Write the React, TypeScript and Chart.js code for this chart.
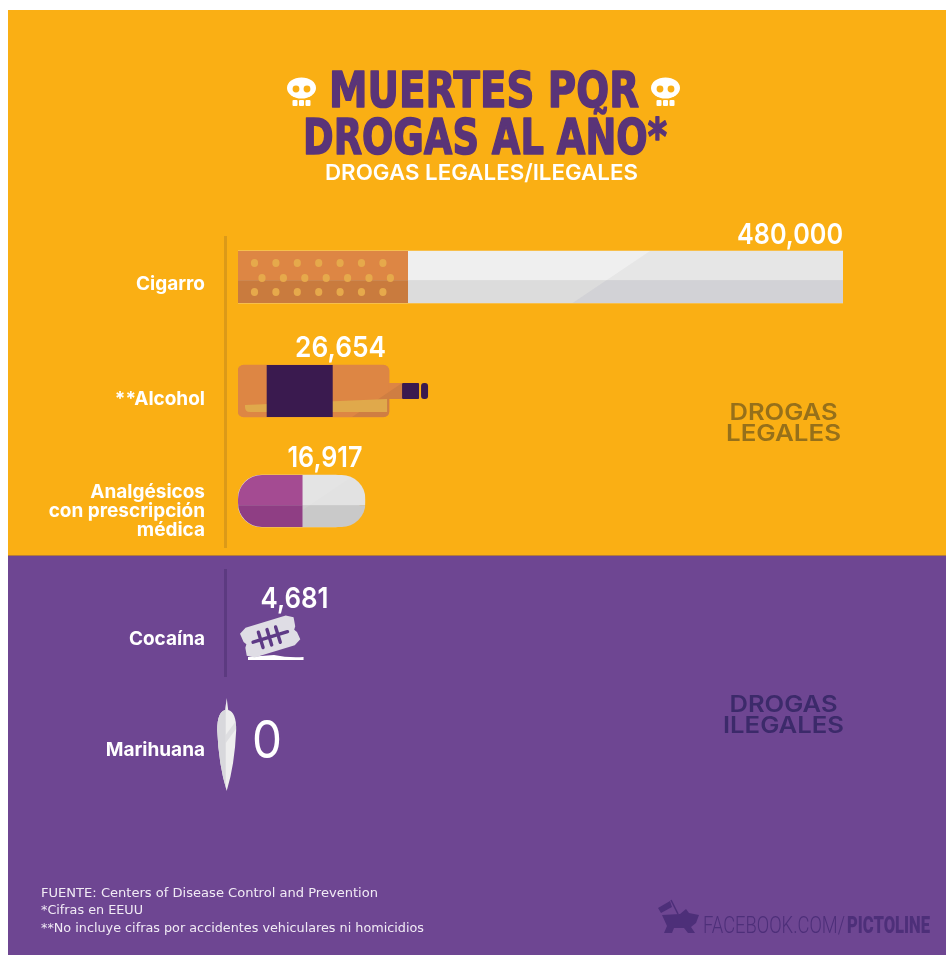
import React, { useEffect, useRef } from "react";
import { Chart, registerables, LinearScale, CategoryScale } from "chart.js";

const categories = ["Cigarro", "**Alcohol", ["Analgésicos", "con prescripción", "médica"], "Cocaína", "Marihuana"];
const deaths = [480000, 26654, 16917, 4681, 0];
const valueLabels = deaths.map((v) => v.toLocaleString("en-US"));
const titleLines = ["MUERTES POR", "DROGAS AL AÑO*"];
const subtitle = "DROGAS LEGALES/ILEGALES";
const legalLabel = ["DROGAS", "LEGALES"];
const illegalLabel = ["DROGAS", "ILEGALES"];
const footerLines = [
  "FUENTE: Centers of Disease Control and Prevention",
  "*Cifras en EEUU",
  "**No incluye cifras por accidentes vehiculares ni homicidios",
];

const YELLOW = "#FAAF14";
const PURPLE = "#6E4692";
const W = 938;
const H = 947;
const OX = 8; // canvas offset on the page
const OY = 8;

const PLOT_TOP = 220;
const PLOT_BOTTOM = 800;
const barRows = [277, 391, 501, 638, 745];
const tickRows = [284, 399, 511, 639, 750];

class RowScale extends CategoryScale {
  static id = "rows";
  static defaults = {};
  getPixelForValue(value: number, index?: number) {
    const i = index ?? value;
    return barRows[i] - OY;
  }
  getPixelForTick(index: number) {
    return tickRows[index] - OY;
  }
}

// Pictorial, compressed length scale: the picture's lengths follow a power of the value
const POWER = 0.48;
class PictureScale extends LinearScale {
  static id = "picture";
  static defaults = {};
  getPixelForValue(value: number) {
    const f = Math.pow(Math.max(0, (value ?? 0) / (this as any).max), POWER);
    return (this as any).left + f * (this as any).width;
  }
  getValueForPixel(pixel: number) {
    const f = (pixel - (this as any).left) / (this as any).width;
    return Math.pow(f, 1 / POWER) * (this as any).max;
  }
}

Chart.register(...registerables, RowScale, PictureScale);

function fitText(ctx: CanvasRenderingContext2D, text: string, x: number, y: number, width: number, font: string, color: string, stroke = 0) {
  // x = left edge on the page, y = baseline on the page, width = target width
  ctx.save();
  ctx.font = font;
  ctx.textAlign = "left";
  ctx.textBaseline = "alphabetic";
  const m = ctx.measureText(text).width;
  ctx.translate(x - OX, y - OY);
  ctx.scale(width / m, 1);
  ctx.fillStyle = color;
  ctx.fillText(text, 0, 0);
  if (stroke) {
    ctx.strokeStyle = color;
    ctx.lineWidth = stroke;
    ctx.lineJoin = "round";
    ctx.strokeText(text, 0, 0);
  }
  ctx.restore();
}

function rr(ctx: CanvasRenderingContext2D, x: number, y: number, w: number, h: number, r: number) {
  ctx.beginPath();
  ctx.roundRect(x, y, w, h, r);
}

function skull(ctx: CanvasRenderingContext2D, cx: number, top: number) {
  ctx.save();
  ctx.fillStyle = "#fff";
  ctx.beginPath();
  ctx.ellipse(cx, top + 10, 14.5, 10.5, 0, 0, Math.PI * 2);
  ctx.fill();
  rr(ctx, cx - 9, top + 14, 18, 5, 2);
  ctx.fill();
  for (let i = 0; i < 3; i++) {
    rr(ctx, cx - 9 + i * 6.5, top + 22, 5, 6, 1);
    ctx.fill();
  }
  ctx.fillStyle = YELLOW;
  ctx.beginPath();
  ctx.arc(cx - 5.5, top + 11, 3.4, 0, Math.PI * 2);
  ctx.arc(cx + 5.5, top + 11, 3.4, 0, Math.PI * 2);
  ctx.fill();
  ctx.restore();
}

function cigarette(ctx: CanvasRenderingContext2D, x: number, y: number, w: number, h: number) {
  const fw = w * 0.281;
  const band = h * 0.56;
  const tip = x + w;
  ctx.fillStyle = "#EFEFEF";
  ctx.fillRect(x + fw, y, w - fw, band);
  ctx.fillStyle = "#DCDCDC";
  ctx.fillRect(x + fw, y + band, w - fw, h - band);
  const dx = w * 0.681;
  const dx2 = w * 0.553;
  ctx.save();
  ctx.beginPath();
  ctx.moveTo(x + dx, y);
  ctx.lineTo(tip, y);
  ctx.lineTo(tip, y + h);
  ctx.lineTo(x + dx2, y + h);
  ctx.closePath();
  ctx.clip();
  ctx.fillStyle = "#E6E6E6";
  ctx.fillRect(x, y, w, band);
  ctx.fillStyle = "#D2D2D6";
  ctx.fillRect(x, y + band, w, h - band);
  ctx.restore();
  ctx.fillStyle = "#DD8644";
  ctx.fillRect(x, y, fw, band);
  ctx.fillStyle = "#C97B3E";
  ctx.fillRect(x, y + band, fw, h - band);
  ctx.fillStyle = "#E6A94B";
  const rows: [number, number][] = [
    [12, 16.5],
    [27, 24],
    [41, 16.5],
  ];
  for (const [ry, off] of rows) {
    for (let i = 0; i < 7; i++) {
      ctx.beginPath();
      ctx.ellipse(x + off + i * 21.4, y + ry, 3.6, 4, 0, 0, Math.PI * 2);
      ctx.fill();
    }
  }
}

function bottle(ctx: CanvasRenderingContext2D, x: number, y: number, w: number, h: number) {
  const end = x + w;
  const mid = y + h / 2;
  ctx.save();
  rr(ctx, x, y, w, h, 6);
  ctx.fillStyle = "#DD8644";
  ctx.fill();
  ctx.fillRect(end - 1, mid - 8, 14, 16);
  // shaded corner
  ctx.fillStyle = "#CF7E42";
  ctx.beginPath();
  ctx.moveTo(end + 13, mid - 8);
  ctx.lineTo(end + 13, mid + 8);
  ctx.lineTo(end, mid + 8);
  ctx.lineTo(end, y + h - 5);
  ctx.arcTo(end, y + h, end - 5, y + h, 5);
  ctx.lineTo(end - 37, y + h);
  ctx.closePath();
  ctx.fill();
  // liquid
  ctx.fillStyle = "#E0A94B";
  ctx.beginPath();
  ctx.moveTo(x + 7, y + 40);
  ctx.lineTo(end - 2, y + 34);
  ctx.lineTo(end - 2, y + 47);
  ctx.lineTo(x + 12, y + 47);
  ctx.quadraticCurveTo(x + 7, y + 47, x + 7, y + 42);
  ctx.closePath();
  ctx.fill();
  // label and caps
  ctx.fillStyle = "#3A1A4F";
  ctx.fillRect(x + w * 0.19, y, w * 0.437, h);
  rr(ctx, end + 13, mid - 8, 17, 16, 1);
  ctx.fill();
  rr(ctx, end + 32, mid - 8, 7, 16, 3);
  ctx.fill();
  ctx.restore();
}

function pill(ctx: CanvasRenderingContext2D, x: number, y: number, w: number, h: number) {
  const dw = w + 6;
  const half = dw * 0.508;
  const band = h * 0.58;
  ctx.save();
  rr(ctx, x, y, dw, h, 24);
  ctx.clip();
  ctx.fillStyle = "#A44B92";
  ctx.fillRect(x, y, half, band);
  ctx.fillStyle = "#8F3E84";
  ctx.fillRect(x, y + band, half, h - band);
  ctx.fillStyle = "#E2E2E2";
  ctx.fillRect(x + half, y, dw - half, band);
  ctx.fillStyle = "#C9C9C9";
  ctx.fillRect(x + half, y + band, dw - half, h - band);
  ctx.fillStyle = "rgba(255,255,255,0.08)";
  ctx.beginPath();
  ctx.moveTo(x + half, y);
  ctx.lineTo(x + half + 52, y);
  ctx.lineTo(x + half, y + 35);
  ctx.closePath();
  ctx.fill();
  ctx.restore();
}

function blade(ctx: CanvasRenderingContext2D, x: number, y: number, w: number) {
  // x = base pixel, w = bar length, y = row centre
  ctx.save();
  ctx.fillStyle = "#fff";
  ctx.beginPath();
  ctx.moveTo(x + 10, y + 22);
  ctx.lineTo(x + 10, y + 19);
  ctx.lineTo(x + 36, y + 17);
  ctx.quadraticCurveTo(x + 50, y + 20, w + x, y + 19);
  ctx.lineTo(x + w, y + 22);
  ctx.closePath();
  ctx.fill();
  ctx.translate(x + 32, y - 2);
  ctx.rotate((-17 * Math.PI) / 180);
  ctx.fillStyle = "#DFDDE5";
  ctx.beginPath();
  ctx.moveTo(-28, -11);
  ctx.lineTo(-21, -15);
  ctx.lineTo(21, -15);
  ctx.lineTo(28, -11);
  ctx.lineTo(27, -2);
  ctx.lineTo(25, 1);
  ctx.lineTo(27, 4);
  ctx.lineTo(28, 12);
  ctx.lineTo(21, 16);
  ctx.lineTo(-21, 16);
  ctx.lineTo(-28, 12);
  ctx.lineTo(-27, 4);
  ctx.lineTo(-25, 1);
  ctx.lineTo(-27, -2);
  ctx.closePath();
  ctx.fill();
  ctx.lineCap = "round";
  ctx.strokeStyle = "#5E3A86";
  ctx.lineWidth = 3.4;
  ctx.beginPath();
  ctx.moveTo(-18, 1);
  ctx.lineTo(18, 1);
  for (const cx of [-10, -1, 8]) {
    ctx.moveTo(cx, -7);
    ctx.lineTo(cx, 9);
  }
  ctx.stroke();
  ctx.restore();
}

function joint(ctx: CanvasRenderingContext2D, base: number, cy: number) {
  const x = base - 11.3; // the joint sits across the axis because its value is zero
  const leaf = () => {
    ctx.beginPath();
    ctx.moveTo(x, cy - 47);
    ctx.lineTo(x + 1.5, cy - 35);
    ctx.quadraticCurveTo(x + 9.5, cy - 33, x + 9.5, cy - 15);
    ctx.quadraticCurveTo(x + 8, cy + 20, x, cy + 46);
    ctx.quadraticCurveTo(x - 8, cy + 20, x - 9.5, cy - 15);
    ctx.quadraticCurveTo(x - 9.5, cy - 33, x - 1.5, cy - 35);
    ctx.closePath();
  };
  ctx.save();
  leaf();
  ctx.fillStyle = "#EEEEEE";
  ctx.fill();
  leaf();
  ctx.clip();
  ctx.fillStyle = "#D8D8DC";
  ctx.fillRect(x - 12, cy - 50, 11, 100);
  ctx.fillStyle = "rgba(215,215,220,0.7)";
  ctx.beginPath();
  ctx.moveTo(x - 1, cy - 10);
  ctx.lineTo(x + 10, cy - 25);
  ctx.lineTo(x + 10, cy - 17);
  ctx.lineTo(x - 1, cy - 2);
  ctx.closePath();
  ctx.fill();
  ctx.restore();
}

const decorPlugin = {
  id: "decor",
  beforeDraw(chart: Chart) {
    const ctx = chart.ctx;
    ctx.save();
    ctx.fillStyle = YELLOW;
    ctx.fillRect(0, 2, W, 555 - OY - 2);
    ctx.fillStyle = PURPLE;
    ctx.fillRect(0, 555 - OY, W, H - (555 - OY));
    ctx.fillStyle = "#B57B3A";
    ctx.fillRect(0, 555 - OY, W, 1);
    // guide rules beside the categories
    ctx.fillStyle = "#DC9A18";
    ctx.fillRect(224 - OX, 236 - OY, 3, 312);
    ctx.fillStyle = "#5C3A80";
    ctx.fillRect(224 - OX, 569 - OY, 3, 108);
    ctx.restore();
  },
  afterDatasetsDraw(chart: Chart) {
    const ctx = chart.ctx;
    const meta = chart.getDatasetMeta(0);
    const rect = (i: number) => {
      const b: any = meta.data[i];
      const h = b.height;
      return { x: b.base, y: b.y - h / 2, w: b.x - b.base, h, cy: b.y };
    };
    const c = rect(0);
    cigarette(ctx, c.x, c.y, c.w, c.h);
    const a = rect(1);
    bottle(ctx, a.x, a.y, a.w, a.h);
    const p = rect(2);
    pill(ctx, p.x, p.y, p.w, p.h);
    const b = rect(3);
    blade(ctx, b.x, b.cy, b.w);
    const m = rect(4);
    joint(ctx, m.x, m.cy);

    // value labels: right edge follows the end of each bar
    const labelFont = "600 29px Inter";
    const put = (i: number, right: number, baseline: number, width: number) =>
      fitText(ctx, valueLabels[i], right + OX - width, baseline + OY, width, labelFont, "#fff");
    put(0, c.x + c.w, c.y - 7, 106);
    put(1, a.x + a.w - 3, a.y - 8, 91);
    put(2, p.x + p.w + 3, p.y - 8, 75);
    put(3, b.x + b.w + 25, b.cy - 30, 68);
    fitText(ctx, valueLabels[4], m.x + 14 + OX, m.cy + 13 + OY, 30, "400 52px Inter", "#fff");

    // title block
    fitText(ctx, titleLines[0], 329, 107, 310, "700 50px 'DejaVu Sans'", "#5A3478", 1.6);
    fitText(ctx, titleLines[1], 303, 154, 364, "700 50px 'DejaVu Sans'", "#5A3478", 1.6);
    fitText(ctx, subtitle, 325, 180, 313, "600 22px Inter", "#fff");
    skull(ctx, 301.5 - OX, 78 - OY);
    skull(ctx, 665.5 - OX, 78 - OY);

    // group names
    const group = (lines: string[], y: number[], color: string, widths: number[]) => {
      lines.forEach((l, i) => {
        fitText(ctx, l, 783.5 - widths[i] / 2, y[i], widths[i], "600 23px Inter", color);
      });
    };
    group(legalLabel, [420, 441], "#96701A", [108, 115]);
    group(illegalLabel, [712, 733], "#3C2A6A", [108, 121]);

    // footer
    const footerY = [897, 914, 932];
    const footerW = [337, 102, 383];
    footerLines.forEach((l, i) => fitText(ctx, l, 41, footerY[i], footerW[i], "400 13px 'DejaVu Sans'", "#F1EBF5"));

    // brand mark
    ctx.save();
    ctx.fillStyle = "#4D2F79";
    ctx.translate(-OX, -OY);
    ctx.beginPath();
    ctx.moveTo(662, 915);
    ctx.lineTo(680, 914);
    ctx.lineTo(686, 909);
    ctx.lineTo(689, 913);
    ctx.lineTo(699, 915);
    ctx.lineTo(696, 923);
    ctx.lineTo(691, 927);
    ctx.lineTo(695, 933);
    ctx.lineTo(688, 933);
    ctx.lineTo(684, 928);
    ctx.lineTo(674, 928);
    ctx.lineTo(672, 933);
    ctx.lineTo(664, 933);
    ctx.lineTo(667, 926);
    ctx.closePath();
    ctx.fill();
    ctx.beginPath();
    ctx.moveTo(658, 908);
    ctx.lineTo(670, 901);
    ctx.lineTo(672, 907);
    ctx.lineTo(661, 913);
    ctx.closePath();
    ctx.fill();
    ctx.strokeStyle = "#4D2F79";
    ctx.lineWidth = 1.5;
    ctx.beginPath();
    ctx.moveTo(671, 900);
    ctx.lineTo(678, 914);
    ctx.stroke();
    ctx.restore();
    fitText(ctx, "FACEBOOK.COM/", 703, 933, 142, "300 24px Roboto", "#4D2F79");
    fitText(ctx, "PICTOLINE", 847, 933, 83, "900 24px Roboto", "#4D2F79");
  },
};

export default function App() {
  const ref = useRef<HTMLCanvasElement>(null);
  useEffect(() => {
    const chart = new Chart(ref.current!, {
      type: "bar",
      data: {
        labels: categories as any,
        datasets: [
          {
            label: "Muertes por año",
            data: deaths,
            backgroundColor: ["#EFEFEF", "#DD8644", "#E2E2E2", "rgba(0,0,0,0)", "rgba(0,0,0,0)"],
            borderRadius: [0, 6, 24, 0, 0],
            barThickness: 52,
            borderSkipped: false,
          },
        ],
      },
      options: {
        indexAxis: "y",
        responsive: false,
        animation: false,
        devicePixelRatio: 1,
        layout: { padding: { top: PLOT_TOP - OY, bottom: H - (PLOT_BOTTOM - OY), left: 0, right: W - (843 - OX) } },
        plugins: { legend: { display: false }, tooltip: { enabled: false }, title: { display: false } },
        scales: {
          x: { type: "picture" as any, min: 0, max: 480000, display: false, grid: { display: false } },
          y: {
            type: "rows" as any,
            position: "left",
            grid: { display: false, drawTicks: false },
            border: { display: false },
            ticks: {
              autoSkip: false,
              padding: 33,
              color: "#FFFFFF",
              font: { family: "Inter", weight: "700", size: 19, lineHeight: 1 },
            },
            afterFit(scale: any) {
              scale.width = 238 - OX;
            },
          },
        },
      },
      plugins: [decorPlugin as any],
    });
    return () => chart.destroy();
  }, []);
  return (
    <canvas
      ref={ref}
      width={W}
      height={H}
      style={{ position: "absolute", left: OX, top: OY, width: W, height: H, display: "block" }}
    />
  );
}
